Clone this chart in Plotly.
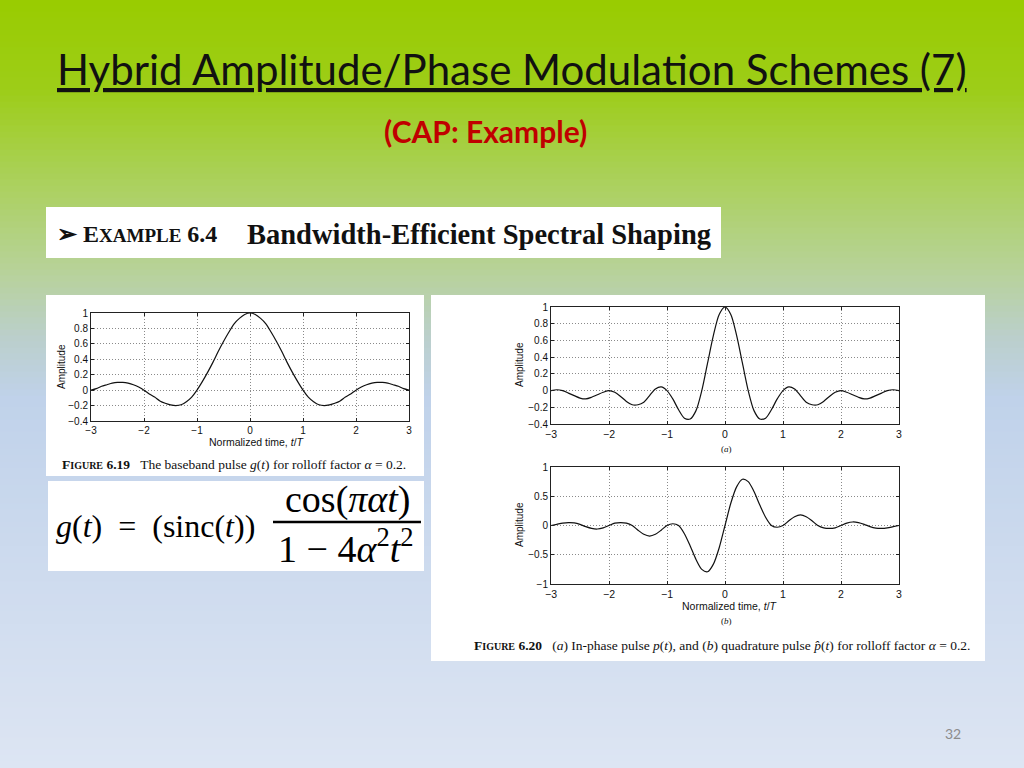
import plotly.graph_objects as go

W, H = 1024, 768

# ---------------- data ----------------
t = [-3.0, -2.9, -2.8, -2.7, -2.6, -2.5, -2.4, -2.3, -2.2, -2.1,
     -2.0, -1.9, -1.8, -1.7, -1.6, -1.5, -1.4, -1.3, -1.2, -1.1,
     -1.0, -0.9, -0.8, -0.7, -0.6, -0.5, -0.4, -0.3, -0.2, -0.1,
     0.0, 0.1, 0.2, 0.3, 0.4, 0.5, 0.6, 0.7, 0.8, 0.9,
     1.0, 1.1, 1.2, 1.3, 1.4, 1.5, 1.6, 1.7, 1.8, 1.9,
     2.0, 2.1, 2.2, 2.3, 2.4, 2.5, 2.6, 2.7, 2.8, 2.9, 3.0]

# Figure 6.19 baseband pulse g(t)
g_baseband = [0.00, 0.02, 0.05, 0.07, 0.09, 0.10, 0.10, 0.09, 0.07, 0.04,
              0.00, -0.05, -0.09, -0.14, -0.17, -0.19, -0.20, -0.19, -0.15, -0.09,
              0.00, 0.11, 0.23, 0.36, 0.50, 0.63, 0.75, 0.86, 0.93, 0.98,
              1.00, 0.98, 0.93, 0.86, 0.75, 0.63, 0.50, 0.36, 0.23, 0.11,
              0.00, -0.09, -0.15, -0.19, -0.20, -0.19, -0.17, -0.14, -0.09, -0.05,
              0.00, 0.04, 0.07, 0.09, 0.10, 0.10, 0.09, 0.07, 0.05, 0.02, 0.00]

# Figure 6.20(a) in-phase pulse p(t)
p_inphase = [0.00, 0.01, 0.00, -0.03, -0.06, -0.09, -0.10, -0.08, -0.05, -0.02,
             0.00, -0.02, -0.07, -0.13, -0.17, -0.17, -0.14, -0.06, 0.02, 0.045,
             0.00, -0.10, -0.23, -0.33, -0.34, -0.24, 0.00, 0.33, 0.66, 0.91,
             1.00, 0.91, 0.66, 0.33, 0.00, -0.24, -0.34, -0.33, -0.23, -0.10,
             0.00, 0.045, 0.02, -0.06, -0.14, -0.17, -0.17, -0.13, -0.07, -0.02,
             0.00, -0.02, -0.05, -0.08, -0.10, -0.09, -0.06, -0.03, 0.00, 0.01, 0.00]

# Figure 6.20(b) quadrature pulse p^(t)
p_quadrature = [0.00, 0.02, 0.04, 0.05, 0.045, 0.02, -0.02, -0.05, -0.06, -0.04,
                0.00, 0.04, 0.05, 0.04, 0.00, -0.08, -0.15, -0.18, -0.15, -0.08,
                0.00, 0.03, 0.00, -0.14, -0.35, -0.58, -0.75, -0.79, -0.66, -0.38,
                0.00, 0.38, 0.66, 0.79, 0.75, 0.58, 0.35, 0.14, 0.00, -0.03,
                0.00, 0.08, 0.15, 0.18, 0.15, 0.08, 0.00, -0.04, -0.05, -0.04,
                0.00, 0.04, 0.06, 0.05, 0.02, -0.02, -0.045, -0.05, -0.04, -0.02, 0.00]

x_ticks = [-3, -2, -1, 0, 1, 2, 3]
y_ticks_g = [-0.4, -0.2, 0, 0.2, 0.4, 0.6, 0.8, 1]
y_ticks_a = [-0.4, -0.2, 0, 0.2, 0.4, 0.6, 0.8, 1]
y_ticks_b = [-1, -0.5, 0, 0.5, 1]

title_text = "Hybrid Amplitude/Phase Modula\u200ction Schemes (7)"
subtitle_text = "(CAP: Example)"
example_label = "<b>➢ E<span style='font-size:19px'>XAMPLE</span> 6.4</b>"
example_title = "<b>Bandwidth-Efficient Spectral Shaping</b>"
caption_619 = ("<b>F<span style='font-size:10px'>IGURE</span> 6.19</b>"
               "\u00a0\u00a0\u00a0The baseband pulse <i>g</i>(<i>t</i>) for rolloff factor <i>α</i> = 0.2.")
caption_620 = ("<b>F<span style='font-size:10px'>IGURE</span> 6.20</b>"
               "\u00a0\u00a0\u00a0(<i>a</i>) In-phase pulse <i>p</i>(<i>t</i>), and (<i>b</i>) quadrature pulse "
               "<i>p\u0302</i>(<i>t</i>) for rolloff factor <i>α</i> = 0.2.")
y_title = "Amplitude"
x_title = "Normalized time, <i>t</i>/<i>T</i>"
page_number = "32"

# ---------------- helpers ----------------
def px(x):
    return x / W


def py(y):
    return 1 - y / H


SANS = "Liberation Sans, Arial, sans-serif"
SERIF = "Liberation Serif, Times New Roman, serif"
SLIDE = "Lato, Open Sans, sans-serif"

shapes = []

# background gradient (green top -> light blue bottom)
bg_stops = [(0, (153, 204, 0)), (90, (157, 205, 24)), (190, (172, 209, 98)),
            (270, (183, 210, 152)), (340, (187, 207, 205)), (400, (192, 210, 234)),
            (768, (221, 229, 243))]


def bg_color(y):
    for (y0, c0), (y1, c1) in zip(bg_stops, bg_stops[1:]):
        if y0 <= y <= y1:
            f = (y - y0) / (y1 - y0)
            return "rgb(%d,%d,%d)" % tuple(round(a + (b - a) * f) for a, b in zip(c0, c1))
    return "rgb(221,229,243)"


strip = 6
for yy in range(0, H, strip):
    shapes.append(dict(type="rect", xref="paper", yref="paper", x0=0, x1=1,
                       y0=max(0, py(yy + strip + 0.6)), y1=min(1, py(yy - 0.6)),
                       fillcolor=bg_color(yy + strip / 2), line=dict(width=0), layer="below"))


def white_box(x0, y0, x1, y1):
    shapes.append(dict(type="rect", xref="paper", yref="paper", x0=px(x0), x1=px(x1),
                       y0=py(y1), y1=py(y0), fillcolor="white", line=dict(width=0), layer="below"))


white_box(46, 207, 721, 258)
white_box(46, 295, 424, 476)
white_box(48, 481, 424, 571)
white_box(431, 295, 985, 661)

# fraction bar of the formula
shapes.append(dict(type="line", xref="paper", yref="paper", x0=px(273), x1=px(421),
                   y0=py(522), y1=py(522), line=dict(color="black", width=2.5)))


def ann(text, x, y, size, family, color="#111", xanchor="center", yanchor="middle", angle=0, font_extra=None):
    f = dict(size=size, family=family, color=color)
    if font_extra:
        f.update(font_extra)
    return dict(text=text, x=px(x), y=py(y), xref="paper", yref="paper", showarrow=False,
                font=f, xanchor=xanchor, yanchor=yanchor, textangle=angle)


annotations = [
    ann(title_text, 512, 69, 42, SLIDE, color="#111", font_extra=dict(lineposition="under")),
    ann("<b>" + subtitle_text + "</b>", 485, 131, 30, SLIDE, color="#C00000"),
    ann(example_label, 55, 234, 24, SERIF, color="#111", xanchor="left"),
    ann(example_title, 713, 235, 28.5, SERIF, color="#111", xanchor="right"),
    ann(caption_619, 234, 464, 13.5, SERIF, color="#111"),
    ann(caption_620, 722, 645, 13.5, SERIF, color="#111"),
    ann(y_title, 62, 367, 10, SANS, angle=-90),
    ann(x_title, 257, 442, 10.5, SANS),
    ann(y_title, 519, 365, 10, SANS, angle=-90),
    ann("(<i>a</i>)", 726, 449, 9, SERIF),
    ann(y_title, 519, 525, 10, SANS, angle=-90),
    ann(x_title, 730, 606, 10.5, SANS),
    ann("(<i>b</i>)", 726, 621, 9, SERIF),
    ann("<i>g</i>(<i>t</i>)\u00a0 =\u00a0 (sinc(<i>t</i>))", 54, 526, 32, SERIF, color="#000", xanchor="left"),
    ann("cos(<i>παt</i>)", 348, 499, 38, SERIF, color="#000"),
    ann("1 − 4<i>α</i><sup>2</sup><i>t</i><sup>2</sup>", 346, 546, 38, SERIF, color="#000"),
    ann(page_number, 953, 733, 14, SLIDE, color="#8c8c8c"),
]

fig = go.Figure()

line_style = dict(color="#111", width=1.2, shape="spline", smoothing=0.8)
fig.add_trace(go.Scatter(x=t, y=g_baseband, mode="lines", line=line_style, xaxis="x", yaxis="y",
                         showlegend=False, hoverinfo="skip"))
fig.add_trace(go.Scatter(x=t, y=p_inphase, mode="lines", line=line_style, xaxis="x2", yaxis="y2",
                         showlegend=False, hoverinfo="skip"))
fig.add_trace(go.Scatter(x=t, y=p_quadrature, mode="lines", line=line_style, xaxis="x3", yaxis="y3",
                         showlegend=False, hoverinfo="skip"))


def axis(domain, rng, ticks, anchor, fsize):
    return dict(domain=domain, range=rng, tickvals=ticks, anchor=anchor, automargin=False,
                showline=True, linecolor="#222", linewidth=1, mirror="ticks",
                ticks="inside", ticklen=3, tickcolor="#222",
                showgrid=True, gridcolor="#8a8a8a", griddash="1px,2px", gridwidth=1,
                zeroline=False, tickfont=dict(family=SANS, size=fsize, color="#111"),
                fixedrange=True)


fig.update_layout(
    template="none",
    width=W, height=H, autosize=False,
    margin=dict(l=0, r=0, t=0, b=0, pad=0, autoexpand=False),
    paper_bgcolor="rgb(192,210,234)", plot_bgcolor="white",
    showlegend=False,
    shapes=shapes, annotations=annotations,
    xaxis=axis([px(91), px(409)], [-3, 3], x_ticks, "y", 10),
    yaxis=axis([py(421), py(313)], [-0.4, 1], y_ticks_g, "x", 10),
    xaxis2=axis([px(551), px(899)], [-3, 3], x_ticks, "y2", 10.5),
    yaxis2=axis([py(424), py(307)], [-0.4, 1], y_ticks_a, "x2", 10),
    xaxis3=axis([px(551), px(899)], [-3, 3], x_ticks, "y3", 10.5),
    yaxis3=axis([py(584), py(467)], [-1, 1], y_ticks_b, "x3", 10),
)

fig.write_html("out.html", config={"displayModeBar": False},
               post_script="document.body.style.margin='0px';document.body.style.overflow='hidden';")
